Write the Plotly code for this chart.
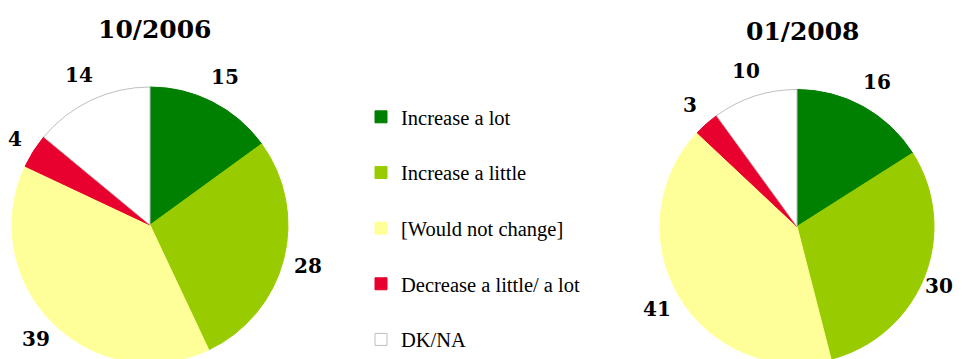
import math
import plotly.graph_objects as go

# 응답 범주와 색상
categories = ["Increase a lot", "Increase a little", "[Would not change]",
              "Decrease a little/ a lot", "DK/NA"]
colors = ["#008000", "#99CC00", "#FFFF99", "#E8002E", "#FFFFFF"]
line_colors = ["#008000", "#99CC00", "#FFFF99", "#E8002E", "#BFBFBF"]

# 조사 시점별 값
titles = ["10/2006", "01/2008"]
values_2006 = [15, 28, 39, 4, 14]
values_2008 = [16, 30, 41, 3, 10]

W, H = 962, 359
OFF = 8  # 페이지 body 여백만큼 화면 좌표 보정
LABEL_SIZE = 20
VIS_LEFT, VIS_RIGHT = OFF, W - OFF - 1  # 화면에 보이는 가로 범위


def px_x(sx):
    return (sx - OFF) / W


def px_y(sy):
    return 1 - (sy - OFF) / H


def make_pie(vals, cx, cy, r):
    # cx, cy: 화면 픽셀 기준 중심(위에서부터), r: 반지름
    return go.Pie(
        labels=categories,
        values=vals,
        sort=False,
        direction="clockwise",
        rotation=0,
        marker=dict(colors=colors, line=dict(color=line_colors, width=1)),
        textinfo="none",
        showlegend=False,
        hoverinfo="label+value",
        domain=dict(x=[px_x(cx - r), px_x(cx + r)],
                    y=[px_y(cy + r), px_y(cy - r)]),
    )


def add_value_labels(fig, vals, cx, cy, r):
    # 조각 중앙 각도 방향, 라벨 상자가 원 바깥에 닿도록 배치
    total = sum(vals)
    cum = 0
    for v in vals:
        ang = 2 * math.pi * (cum + v / 2) / total
        cum += v
        ux, uy = math.sin(ang), -math.cos(ang)
        half_w = 0.35 * LABEL_SIZE * len(str(v))
        half_h = 8
        dist = r + 11 + abs(ux) * half_w + abs(uy) * half_h - 4 * uy
        lx = cx + dist * ux
        # 화면 밖으로 잘리지 않게
        lx = min(max(lx, VIS_LEFT + half_w), VIS_RIGHT - half_w)
        fig.add_annotation(
            text=f"<b>{v}</b>",
            x=px_x(lx), y=px_y(cy + dist * uy),
            xref="paper", yref="paper", showarrow=False,
            xanchor="center", yanchor="middle",
            font=dict(family="DejaVu Serif", size=LABEL_SIZE, color="black"),
        )


fig = go.Figure()
pies = [(values_2006, 150, 225, 138, 155, 29), (values_2008, 797, 226.5, 137, 803, 32)]
for vals, cx, cy, r, tx, ty in pies:
    fig.add_trace(make_pie(vals, cx, cy, r))
    add_value_labels(fig, vals, cx, cy, r)

for (vals, cx, cy, r, tx, ty), t in zip(pies, titles):
    fig.add_annotation(text=f"<b>{t}</b>", x=px_x(tx), y=px_y(ty), xref="paper", yref="paper",
                       xanchor="center", yanchor="middle", showarrow=False,
                       font=dict(family="DejaVu Serif", size=25, color="black"))

# 범례: 항목 간격을 넓히기 위해 항목마다 별도 그룹
for cat, col, lc in zip(categories, colors, line_colors):
    fig.add_trace(go.Bar(
        x=[None], y=[None], name=cat, legendgroup=cat,
        marker=dict(color=col, line=dict(color=lc, width=1)),
        showlegend=True, hoverinfo="skip",
    ))

fig.update_layout(
    width=W, height=H,
    margin=dict(l=0, r=0, t=0, b=0),
    paper_bgcolor="white",
    plot_bgcolor="white",
    xaxis=dict(visible=False),
    yaxis=dict(visible=False),
    legend=dict(
        x=px_x(361), y=px_y(97), xanchor="left", yanchor="top",
        font=dict(family="Liberation Serif", size=20.5, color="black"),
        tracegroupgap=26, itemwidth=30,
        bgcolor="rgba(0,0,0,0)",
    ),
)

fig.write_html("out.html")
